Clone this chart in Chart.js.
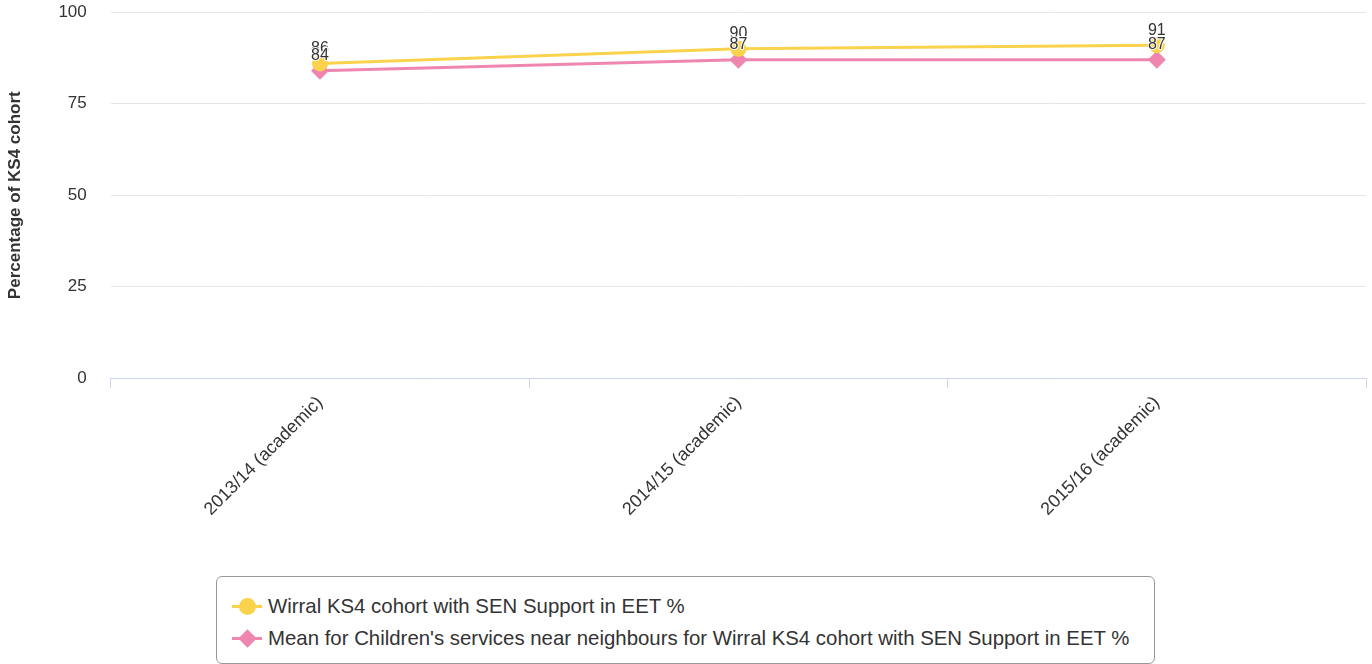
<!DOCTYPE html>
<html>
<head>
<meta charset="utf-8">
<script src="https://cdn.jsdelivr.net/npm/chart.js@4"></script>
<style>
  body { margin: 0; background: #fff; font-family: "Liberation Sans", Arial, sans-serif; overflow: hidden; }
  #wrap { position: relative; width: 1372px; height: 664px; overflow: hidden; }
  #chart-box { position: absolute; left: 0; top: -22px; width: 1375px; height: 546px; }
  #legend {
    position: absolute; left: 216px; top: 576px; width: 939px; height: 88px;
    border: 1px solid #999; border-radius: 6px; box-sizing: border-box;
    padding-top: 13px; padding-left: 15px;
  }
  .item { display: flex; align-items: center; height: 32px; font-size: 20.4px; color: #333; white-space: nowrap; }
  .sym { position: relative; width: 30px; height: 20px; margin-right: 6px; }
  .sym .ln { position: absolute; left: 0; top: 9px; width: 30px; height: 3px; }
  .sym .dot { position: absolute; left: 7px; top: 2px; width: 17px; height: 17px; border-radius: 50%; }
  .sym .dia { position: absolute; left: 9px; top: 4px; width: 13px; height: 13px; transform: rotate(45deg); }
</style>
</head>
<body>
<div id="wrap">
  <div id="chart-box"><canvas id="eetChart"></canvas></div>
  <div id="legend">
    <div class="item"><span class="sym"><span class="ln" style="background:#fbd24c"></span><span class="dot" style="background:#fbd24c"></span></span>Wirral KS4 cohort with SEN Support in EET %</div>
    <div class="item"><span class="sym"><span class="ln" style="background:#ef86b0"></span><span class="dia" style="background:#ef86b0"></span></span>Mean for Children's services near neighbours for Wirral KS4 cohort with SEN Support in EET %</div>
  </div>
</div>
<script>
// chart data
const years = ['2013/14 (academic)', '2014/15 (academic)', '2015/16 (academic)'];
const wirralEet = [86, 90, 91];
const neighbourMean = [84, 87, 87];
const yTicks = [0, 25, 50, 75, 100];

const yellow = '#fbd24c';
const pink = '#ef86b0';
const fontFamily = '"Liberation Sans", Arial, sans-serif';

// draws the value above each point, white halo like the original
const pointLabels = {
    id: 'pointLabels',
    afterDatasetsDraw(chart) {
        const ctx = chart.ctx;
        ctx.save();
        ctx.font = '16px ' + fontFamily;
        ctx.textAlign = 'center';
        ctx.textBaseline = 'bottom';
        chart.data.datasets.forEach((ds, i) => {
            chart.getDatasetMeta(i).data.forEach((pt, j) => {
                const txt = String(ds.data[j]);
                ctx.lineWidth = 2;
                ctx.strokeStyle = '#fff';
                ctx.strokeText(txt, pt.x, pt.y - 7);
                ctx.fillStyle = '#333';
                ctx.fillText(txt, pt.x, pt.y - 7);
            });
        });
        ctx.restore();
    }
};

new Chart(document.getElementById('eetChart'), {
    type: 'line',
    data: {
        labels: years,
        datasets: [
            {
                label: 'Wirral KS4 cohort with SEN Support in EET %',
                data: wirralEet,
                borderColor: yellow,
                backgroundColor: yellow,
                borderWidth: 3,
                pointStyle: 'circle',
                pointRadius: 8,
                pointBorderWidth: 0,
                tension: 0
            },
            {
                label: "Mean for Children's services near neighbours for Wirral KS4 cohort with SEN Support in EET %",
                data: neighbourMean,
                borderColor: pink,
                backgroundColor: pink,
                borderWidth: 3,
                pointStyle: 'rectRot',
                pointRadius: 9,
                pointBorderWidth: 0,
                tension: 0
            }
        ]
    },
    options: {
        responsive: true,
        maintainAspectRatio: false,
        animation: false,
        layout: { padding: { top: 0, right: 0, left: 4, bottom: 0 } },
        plugins: {
            legend: { display: false },
            tooltip: { enabled: false }
        },
        scales: {
            x: {
                offset: true,
                border: { color: '#ccd6eb', width: 1 },
                grid: { offset: true, drawOnChartArea: false, drawTicks: true, tickLength: 10, color: '#ccd6eb' },
                ticks: { minRotation: 45, maxRotation: 45, color: '#333', padding: 4, font: { size: 18, family: fontFamily } }
            },
            y: {
                min: 0,
                max: 100,
                afterBuildTicks: axis => { axis.ticks = yTicks.map(v => ({ value: v })); },
                border: { display: false },
                grid: { color: '#e6e6e6', drawTicks: false },
                ticks: { color: '#333', padding: 24, font: { size: 17, family: fontFamily } },
                title: {
                    display: true,
                    text: 'Percentage of KS4 cohort',
                    color: '#333',
                    padding: { top: 1, bottom: 9 },
                    font: { size: 17, weight: 'bold', family: fontFamily }
                }
            }
        }
    },
    plugins: [pointLabels]
});
</script>
</body>
</html>
